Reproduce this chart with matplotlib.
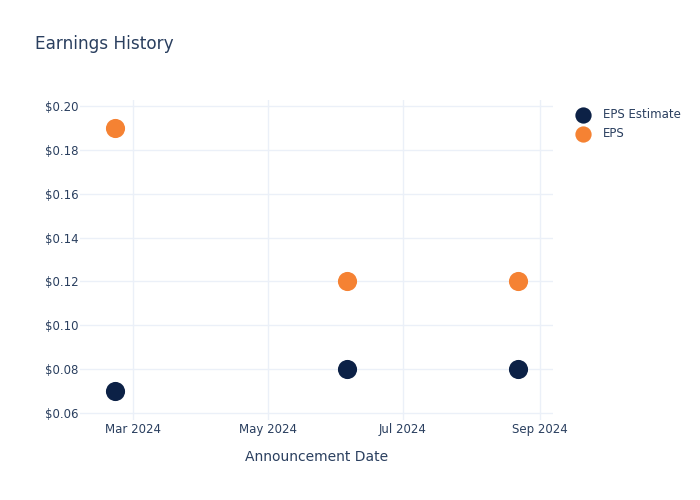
import matplotlib
matplotlib.use("Agg")
import matplotlib.pyplot as plt
import matplotlib.ticker as mticker
import pandas as pd

dates = ["2024-02-22", "2024-06-06", "2024-08-22"]
eps_estimate = [0.07, 0.08, 0.08]
eps_actual = [0.19, 0.12, 0.12]
x_tick_dates = ["2024-03-01", "2024-05-01", "2024-07-01", "2024-09-01"]
x_tick_labels = ["Mar 2024", "May 2024", "Jul 2024", "Sep 2024"]
y_ticks = [0.06, 0.08, 0.10, 0.12, 0.14, 0.16, 0.18, 0.20]

text_color = "#2a3f5f"
grid_color = "#ebf0f8"
navy = "#0c2146"
orange = "#f58233"

x = pd.to_datetime(dates)

fig = plt.figure(figsize=(7, 5), dpi=100)
ax = fig.add_axes([80/700, 80/500, (553-80)/700, (420-100)/500])

ax.scatter(x, eps_estimate, s=190, color=navy, label="EPS Estimate", zorder=3, linewidths=0)
ax.scatter(x, eps_actual, s=190, color=orange, label="EPS", zorder=3, linewidths=0)

ax.set_xlim(pd.Timestamp("2024-02-06"), pd.Timestamp("2024-09-07"))
ax.set_ylim(0.0568, 0.2027)

ax.set_xticks(pd.to_datetime(x_tick_dates))
ax.set_xticklabels(x_tick_labels)
ax.set_yticks(y_ticks)
ax.yaxis.set_major_formatter(mticker.FuncFormatter(lambda v, p: f"${v:.2f}"))

ax.grid(True, color=grid_color, linewidth=1)
ax.set_axisbelow(True)
for s in ax.spines.values():
    s.set_visible(False)
ax.tick_params(length=0, labelsize=8.5, colors=text_color)
ax.tick_params(axis="y", pad=1)
ax.tick_params(axis="x", pad=2)

ax.set_xlabel("Announcement Date", fontsize=10, color=text_color, labelpad=10)

fig.text(35/700, 1 - 44/500, "Earnings History", fontsize=12.2, color=text_color, va="center", ha="left")

leg = fig.legend(loc="upper left", bbox_to_anchor=(565/700, 1 - 102/500), frameon=False,
                 fontsize=8.5, labelcolor=text_color, handletextpad=0.75, borderpad=0,
                 labelspacing=0.55, markerscale=0.85)

fig.savefig("out.png", dpi=100)
